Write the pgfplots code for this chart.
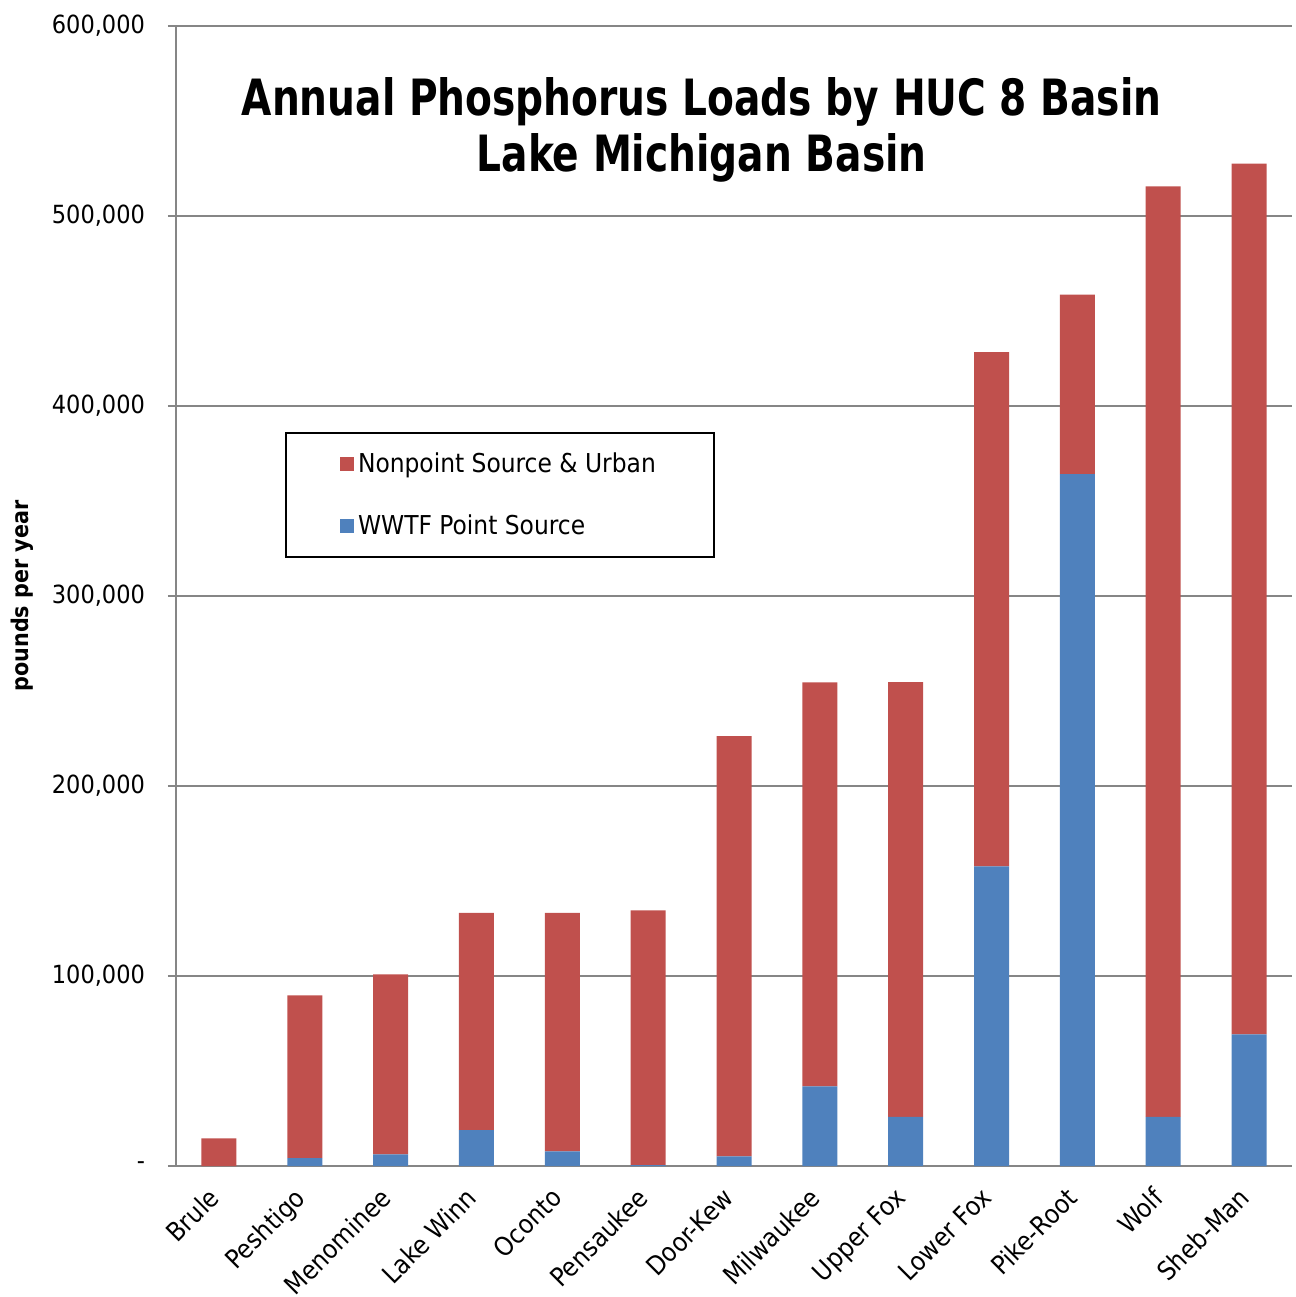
\documentclass[border=0pt]{standalone}
\usepackage{pgfplots}
\pgfplotsset{compat=1.18}
\usepackage{fontspec}
\setmainfont{DejaVu Sans Condensed}
\newfontfamily\titlefont[FakeStretch=0.87]{DejaVu Sans Condensed}
\definecolor{npred}{HTML}{C0504D}
\definecolor{ptblue}{HTML}{4F81BD}
\definecolor{gridgray}{HTML}{868686}
\begin{document}
\begin{tikzpicture}
\begin{axis}[
  at={(0,0)}, anchor=south west,
  scale only axis,
  width=558pt, height=570pt,
  ybar stacked,
  bar width=17.5pt,
  xmin=-0.5, xmax=12.5,
  ymin=0, ymax=600000,
  scaled y ticks=false,
  xtick={0,...,12},
  xticklabels={Brule,Peshtigo,Menominee,Lake Winn,Oconto,Pensaukee,Door-Kew,Milwaukee,Upper Fox,Lower Fox,Pike-Root,Wolf,Sheb-Man},
  major x tick style={draw=none},
  extra x ticks={-0.5,0.5,...,12.5},
  extra x tick labels={},
  extra x tick style={major tick length=4.5pt, tick style={draw=gridgray, line width=0.8pt}, grid=none},
  xticklabel style={rotate=45, anchor=north east, font=\fontsize{13}{15}\selectfont, xshift=-5pt, yshift=3.5pt},
  ytick={0,100000,...,600000},
  yticklabels={-,{100,000},{200,000},{300,000},{400,000},{500,000},{600,000}},
  yticklabel style={font=\fontsize{12.5}{14}\selectfont, xshift=-8pt},
  tick align=outside,
  major tick length=4pt,
  tick style={draw=gridgray, line width=0.8pt},
  ymajorgrids,
  grid style={draw=gridgray, line width=0.7pt},
  axis x line*=bottom,
  axis y line*=left,
  axis line style={draw=gridgray, line width=0.8pt},
  ylabel={\bfseries pounds per year},
  ylabel style={font=\fontsize{11.5}{13}\selectfont, at={(axis description cs:-0.138,0.5)}, anchor=center},
  reverse legend,
  legend style={at={(0.0977,0.644)}, anchor=north west, draw=black, line width=1pt,
    font=\fontsize{13}{15}\selectfont, inner xsep=27pt, inner ysep=8pt,
    row sep=15.5pt, legend cell align=left},
  legend image code/.code={\fill[#1, draw=none] (0pt,-3.5pt) rectangle (7pt,3.5pt);},
]
\addplot+[fill=ptblue, draw=none] coordinates {
(0,0) (1,4200) (2,6100) (3,18900) (4,7700) (5,500) (6,5100) (7,41900) (8,25800) (9,157700) (10,364100) (11,25800) (12,69300)};
\addlegendentry{WWTF Point Source}
\addplot+[fill=npred, draw=none] coordinates {
(0,14600) (1,85600) (2,94800) (3,114300) (4,125500) (5,134100) (6,221200) (7,212700) (8,228900) (9,270700) (10,94500) (11,489800) (12,458200)};
\addlegendentry{Nonpoint Source \& Urban}
\node[align=center, font=\titlefont\bfseries\fontsize{25}{28}\selectfont] at (rel axis cs:0.471,0.909) {Annual Phosphorus Loads by HUC 8 Basin\\Lake Michigan Basin};
\end{axis}
\pgfresetboundingbox
\path[use as bounding box] (-88pt,-65.5pt) rectangle (560pt,583pt);
\end{tikzpicture}
\end{document}
